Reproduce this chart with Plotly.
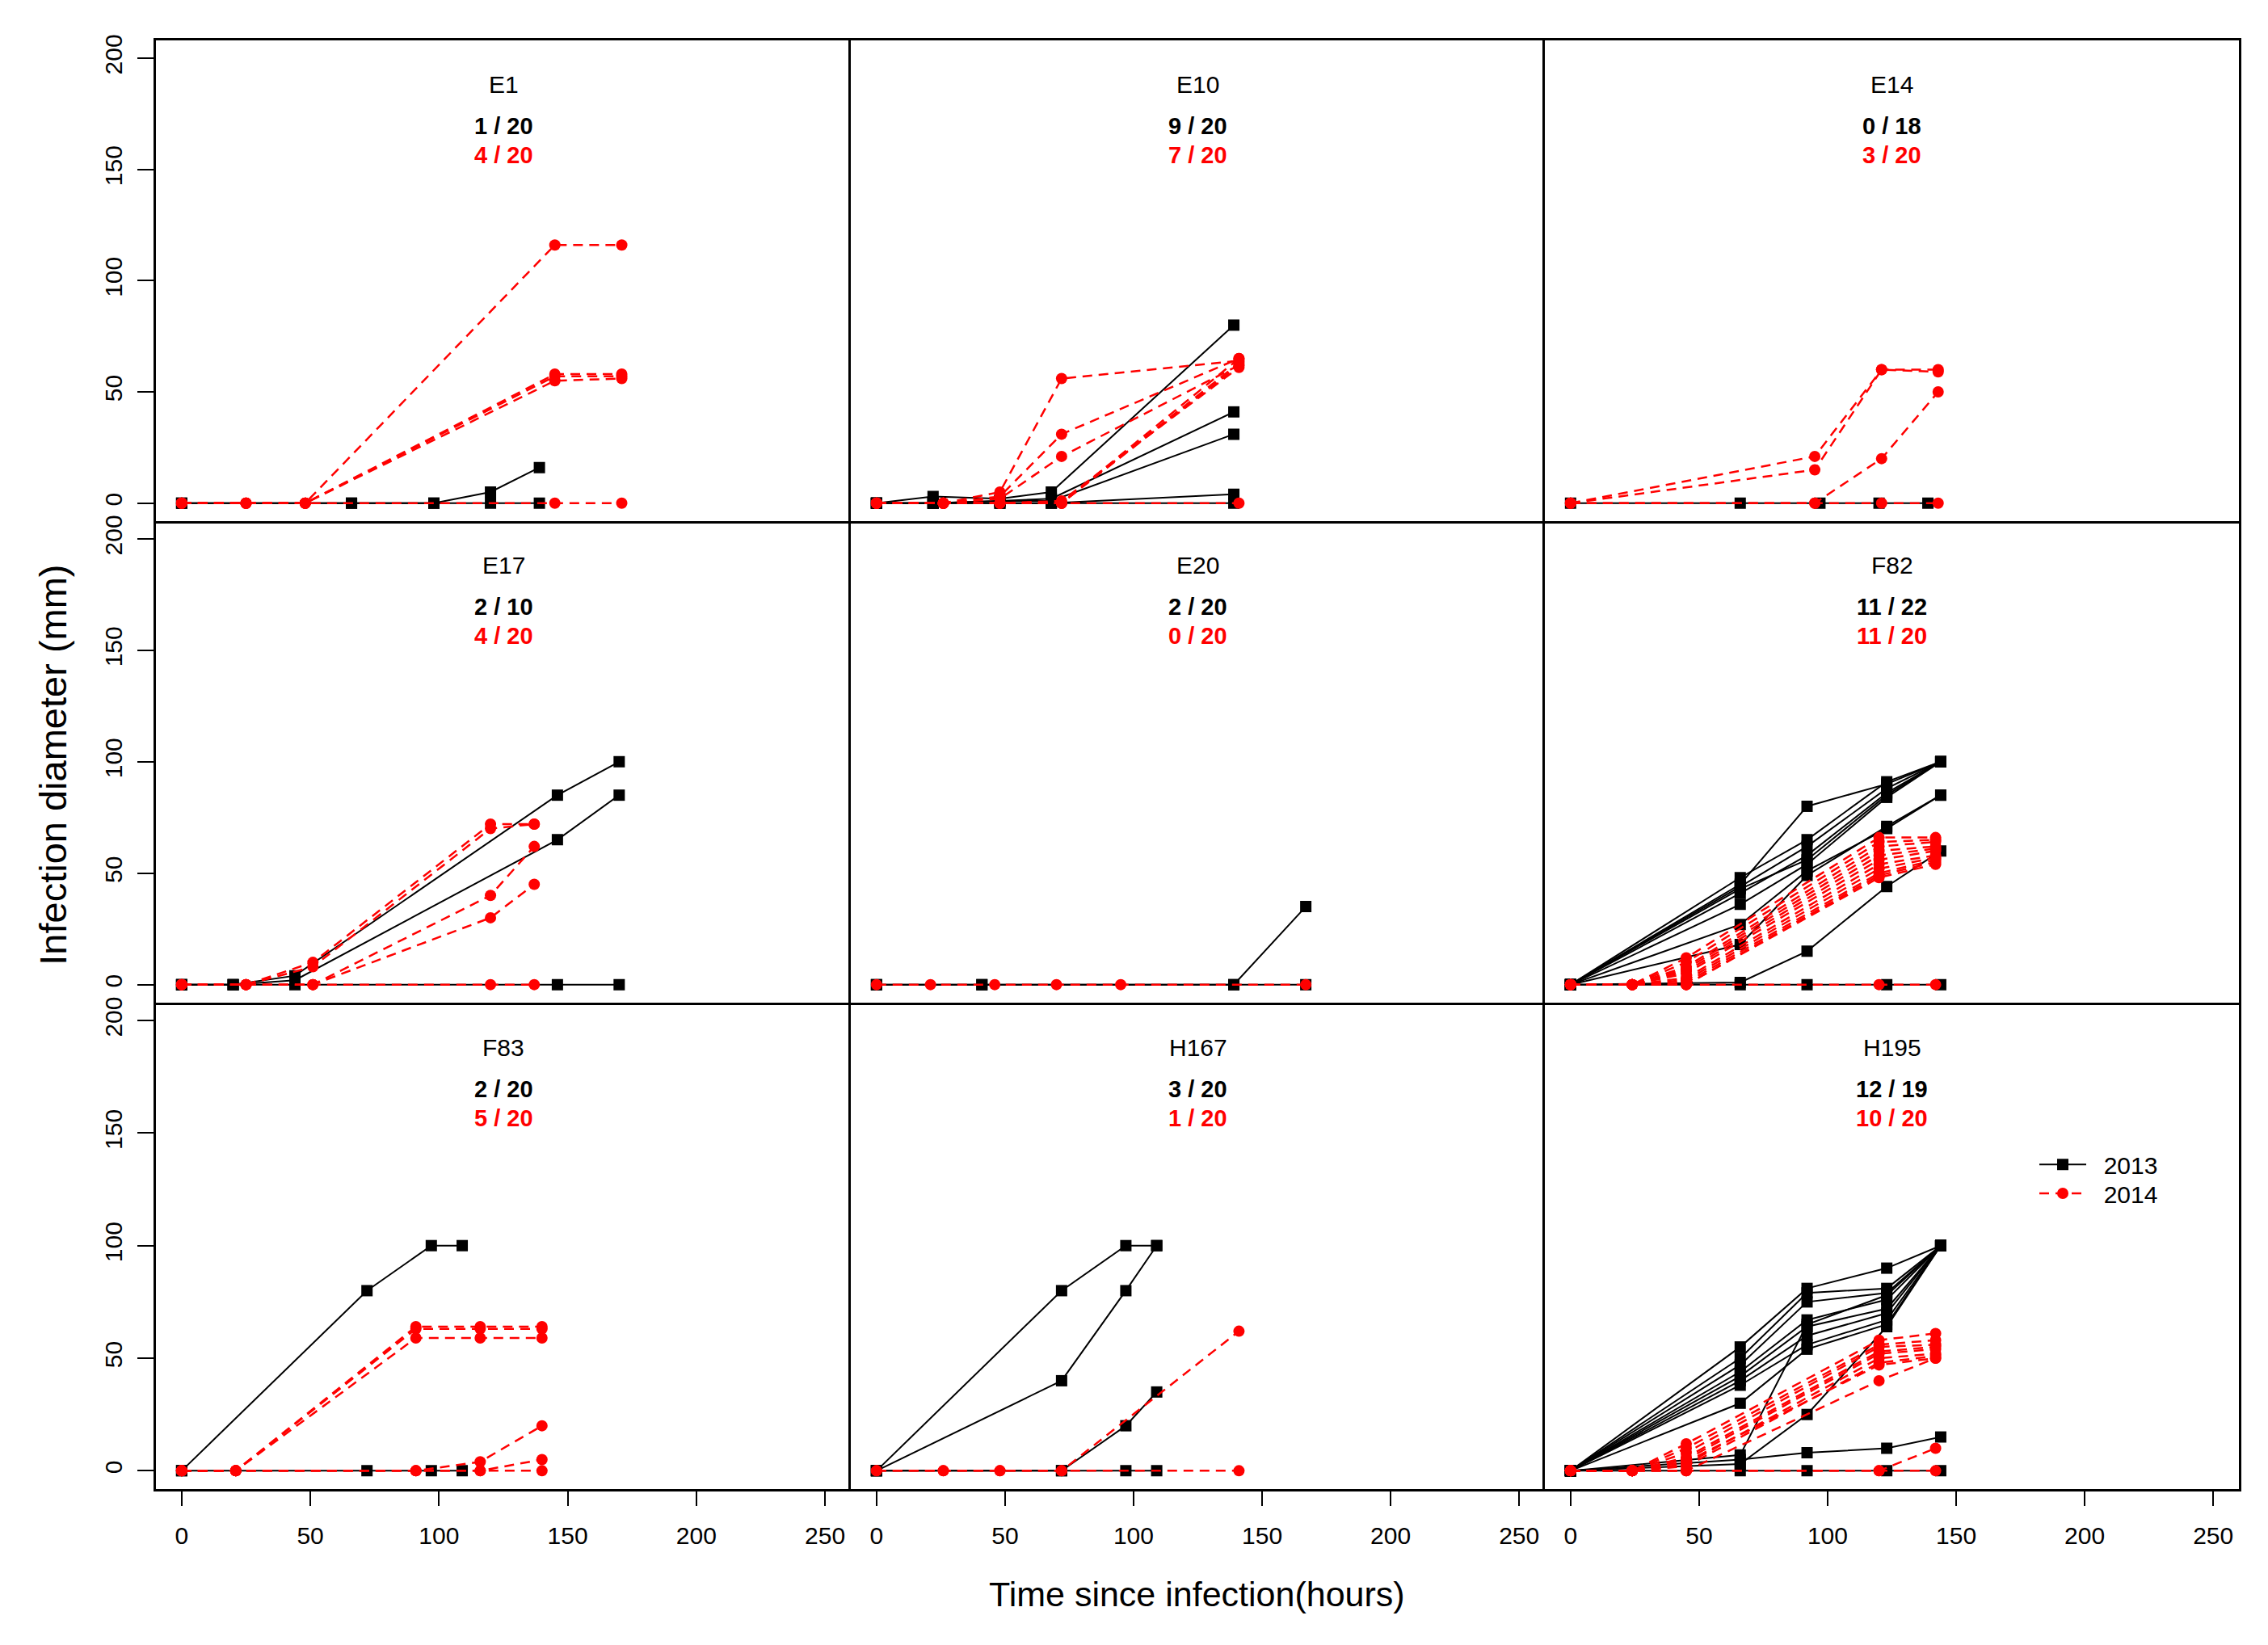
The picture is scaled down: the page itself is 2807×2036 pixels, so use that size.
import plotly.graph_objects as go

# ---------------- data ----------------
PANELS = ["E1", "E10", "E14", "E17", "E20", "F82", "F83", "H167", "H195"]
COUNT_2013 = ["1 / 20", "9 / 20", "0 / 18", "2 / 10", "2 / 20", "11 / 22", "2 / 20", "3 / 20", "12 / 19"]
COUNT_2014 = ["4 / 20", "7 / 20", "3 / 20", "4 / 20", "0 / 20", "11 / 20", "5 / 20", "1 / 20", "10 / 20"]
X_TICKS = [0, 50, 100, 150, 200, 250]
Y_TICKS = [0, 50, 100, 150, 200]
LEGEND_LABELS = ["2013", "2014"]

E1_T13 = [0, 66, 98, 120, 139]
E1_V13 = [[0, 0, 0, 0, 0], [0, 0, 0, 5, 16]]
E1_T14 = [0, 25, 48, 145, 171]
E1_V14 = [[0, 0, 0, 0, 0], [0, 0, 0, 116, 116], [0, 0, 0, 58, 58], [0, 0, 0, 57, 57], [0, 0, 0, 55, 56]]

E10_T13 = [0, 22, 48, 68, 139]
E10_V13 = [[0, 0, 0, 0, 0], [0, 3, 2, 5, 80], [0, 0, 1, 2, 41], [0, 0, 1, 1, 31], [0, 0, 0, 0, 4]]
E10_T14 = [0, 26, 48, 72, 141]
E10_V14 = [[0, 0, 0, 0, 0], [0, 0, 5, 56, 64], [0, 0, 3, 31, 65], [0, 0, 2, 21, 62],
           [0, 0, 0, 0, 65], [0, 0, 0, 0, 63], [0, 0, 0, 1, 61], [0, 0, 0, 0, 62]]

E14_T13 = [0, 66, 97, 120, 139]
E14_V13 = [[0, 0, 0, 0, 0]]
E14_T14 = [0, 95, 121, 143]
E14_V14 = [[0, 0, 0, 0], [0, 21, 60, 60], [0, 15, 60, 59], [0, 0, 20, 50]]

E17_T13 = [0, 20, 44, 146, 170]
E17_V13 = [[0, 0, 0, 0, 0], [0, 0, 4, 85, 100], [0, 0, 2, 65, 85]]
E17_T14 = [0, 25, 51, 120, 137]
E17_V14 = [[0, 0, 0, 0, 0], [0, 0, 10, 72, 72], [0, 0, 8, 70, 72], [0, 0, 0, 40, 62], [0, 0, 0, 30, 45]]

E20_T13 = [0, 41, 139, 167]
E20_V13 = [[0, 0, 0, 0], [0, 0, 0, 35]]
E20_T14 = [0, 21, 46, 70, 95, 167]
E20_V14 = [[0, 0, 0, 0, 0, 0]]

F82_T13 = [0, 66, 92, 123, 144]
F82_V13 = [[0, 0, 0, 0, 0], [0, 45, 80, 90, 100], [0, 48, 65, 91, 100], [0, 44, 62, 88, 100],
           [0, 41, 58, 86, 100], [0, 43, 56, 85, 100], [0, 36, 54, 84, 100], [0, 27, 51, 70, 85],
           [0, 18, 49, 71, 85], [0, 1, 15, 44, 60]]
F82_T14 = [0, 24, 45, 120, 142]
F82_V14 = [[0, 0, 0, 0, 0], [0, 0, 12, 66, 66], [0, 0, 10, 64, 65], [0, 0, 8, 62, 64], [0, 0, 7, 60, 62],
           [0, 0, 6, 58, 61], [0, 0, 5, 56, 60], [0, 0, 3, 54, 58], [0, 0, 2, 52, 57], [0, 0, 1, 50, 56],
           [0, 0, 0, 49, 55], [0, 0, 0, 48, 54]]

F83_T13 = [0, 72, 97, 109]
F83_V13 = [[0, 0, 0, 0], [0, 80, 100, 100]]
F83_T14 = [0, 21, 91, 116, 140]
F83_V14 = [[0, 0, 0, 0, 0], [0, 0, 64, 64, 64], [0, 0, 63, 63, 63], [0, 0, 59, 59, 59],
           [0, 0, 0, 4, 20], [0, 0, 0, 0, 5]]

H167_T13 = [0, 72, 97, 109]
H167_V13 = [[0, 0, 0, 0], [0, 80, 100, 100], [0, 40, 80, 100], [0, 0, 20, 35]]
H167_T14 = [0, 26, 48, 72, 141]
H167_V14 = [[0, 0, 0, 0, 0], [0, 0, 0, 0, 62]]

H195_T13 = [0, 66, 92, 123, 144]
H195_V13 = [[0, 0, 0, 0, 0], [0, 55, 81, 90, 100], [0, 50, 79, 81, 100], [0, 47, 75, 79, 100],
            [0, 44, 67, 76, 100], [0, 42, 64, 72, 100], [0, 40, 60, 70, 100], [0, 38, 56, 67, 100],
            [0, 30, 54, 65, 100], [0, 7, 65, 78, 100], [0, 3, 25, 64, 100], [0, 5, 8, 10, 15]]
H195_T14 = [0, 24, 45, 120, 142]
H195_V14 = [[0, 0, 0, 0, 0], [0, 0, 12, 58, 61], [0, 0, 10, 56, 58], [0, 0, 8, 55, 56], [0, 0, 6, 53, 55],
            [0, 0, 5, 52, 54], [0, 0, 3, 50, 52], [0, 0, 2, 48, 51], [0, 0, 4, 47, 50],
            [0, 0, 0, 40, 50], [0, 0, 0, 0, 10]]

SERIES = [
    (E1_T13, E1_V13, E1_T14, E1_V14),
    (E10_T13, E10_V13, E10_T14, E10_V14),
    (E14_T13, E14_V13, E14_T14, E14_V14),
    (E17_T13, E17_V13, E17_T14, E17_V14),
    (E20_T13, E20_V13, E20_T14, E20_V14),
    (F82_T13, F82_V13, F82_T14, F82_V14),
    (F83_T13, F83_V13, F83_T14, F83_V14),
    (H167_T13, H167_V13, H167_T14, H167_V14),
    (H195_T13, H195_V13, H195_T14, H195_V14),
]

# ---------------- layout ----------------
W, H = 2807, 2036
COL_EDGES = [193, 1053, 1912, 2771]
ROW_EDGES = [43, 640, 1238, 1842]
FONT = "Liberation Sans, Arial, sans-serif"
BLACK = "#000000"
RED = "#FF0000"
LW = 3
NBSP = "\u00a0"

fig = go.Figure()
layout = dict(
    width=W, height=H, margin=dict(l=0, r=0, t=0, b=0),
    paper_bgcolor="white", plot_bgcolor="white",
    font=dict(family=FONT, size=30, color=BLACK),
    showlegend=True,
)
annotations = []

legend_done = {"2013": False, "2014": False}
for i, name in enumerate(PANELS):
    r, c = divmod(i, 3)
    sfx = "" if i == 0 else str(i + 1)
    xref, yref = "x" + sfx, "y" + sfx
    t13, v13, t14, v14 = SERIES[i]
    for v in v13:
        show = not legend_done["2013"]
        legend_done["2013"] = True
        fig.add_trace(go.Scatter(
            x=t13, y=v, mode="lines+markers", xaxis=xref, yaxis=yref,
            name=NBSP * 2 + LEGEND_LABELS[0], legendgroup="2013", showlegend=show, legend="legend",
            line=dict(color=BLACK, width=2),
            marker=dict(symbol="square", size=14, color=BLACK)))
    for v in v14:
        show = not legend_done["2014"]
        legend_done["2014"] = True
        fig.add_trace(go.Scatter(
            x=t14, y=v, mode="lines+markers", xaxis=xref, yaxis=yref,
            name=NBSP * 2 + LEGEND_LABELS[1], legendgroup="2014", showlegend=show, legend="legend2",
            line=dict(color=RED, width=2.5, dash="12px,8px"),
            marker=dict(symbol="circle", size=14, color=RED)))

    xdom = [COL_EDGES[c] / W, COL_EDGES[c + 1] / W]
    ydom = [1 - ROW_EDGES[r + 1] / H, 1 - ROW_EDGES[r] / H]
    xaxis = dict(domain=xdom, anchor=yref, range=[-10, 260], showgrid=False, zeroline=False,
                 showline=True, mirror=(r == 0), linecolor=BLACK, linewidth=LW,
                 tickvals=X_TICKS, showticklabels=(r == 2),
                 ticks="outside" if r == 2 else "", ticklen=18, tickwidth=2, tickcolor=BLACK,
                 tickfont=dict(size=30, family=FONT), ticklabelstandoff=11)
    yaxis = dict(domain=ydom, anchor=xref, range=[-8, 208], showgrid=False, zeroline=False,
                 showline=True, mirror=(c == 2), linecolor=BLACK, linewidth=LW,
                 tickvals=Y_TICKS, showticklabels=(c == 0), tickangle=-90,
                 ticks="outside" if c == 0 else "", ticklen=20, tickwidth=2, tickcolor=BLACK,
                 tickfont=dict(size=30, family=FONT), ticklabelstandoff=7)
    layout["xaxis" + sfx] = xaxis
    layout["yaxis" + sfx] = yaxis

    annotations.append(dict(x=125, y=188, xref=xref, yref=yref, text=name, showarrow=False,
                            font=dict(size=30, color=BLACK, family=FONT)))
    annotations.append(dict(x=125, y=169.5, xref=xref, yref=yref, text="<b>%s</b>" % COUNT_2013[i],
                            showarrow=False, font=dict(size=29, color=BLACK, family=FONT)))
    annotations.append(dict(x=125, y=156.5, xref=xref, yref=yref, text="<b>%s</b>" % COUNT_2014[i],
                            showarrow=False, font=dict(size=29, color=RED, family=FONT)))

annotations.append(dict(x=1481 / W, y=1 - 1973 / H, xref="paper", yref="paper",
                        xanchor="center", yanchor="middle",
                        text="Time since infection(hours)", showarrow=False,
                        font=dict(size=43, color=BLACK, family=FONT)))
annotations.append(dict(x=66 / W, y=1 - 943 / H, xref="paper", yref="paper",
                        xanchor="center", yanchor="middle",
                        text="Infection diameter (mm)", showarrow=False, textangle=-90,
                        font=dict(size=47, color=BLACK, family=FONT)))

layout["annotations"] = annotations
leg_common = dict(xanchor="left", yanchor="top", bgcolor="rgba(0,0,0,0)", borderwidth=0,
                  itemwidth=58, font=dict(size=30, family=FONT, color=BLACK), tracegroupgap=0)
layout["legend"] = dict(x=2519 / W, y=1 - 1413 / H, **leg_common)
layout["legend2"] = dict(x=2519 / W, y=1 - 1449 / H, **leg_common)
fig.update_layout(**layout)
fig.write_html("out.html", config={"displayModeBar": False},
               post_script="document.body.style.margin='0px';")
